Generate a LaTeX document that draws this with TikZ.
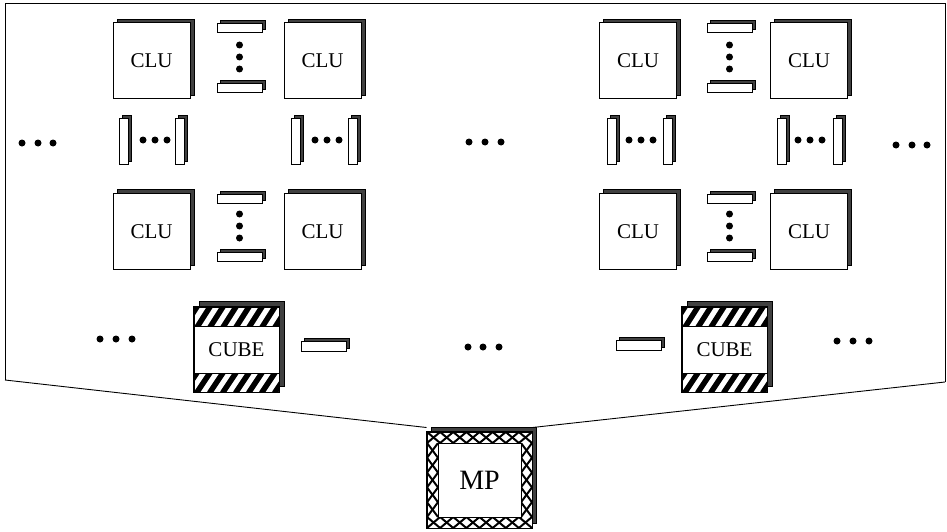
\documentclass[tikz,border=0pt]{standalone}
\usepackage{fontspec}
\setmainfont{Liberation Serif}
\usetikzlibrary{shadows}
\begin{document}
\begin{tikzpicture}[x=1pt,y=-1pt,line width=1pt,
 shd/.style={copy shadow={shadow xshift=#1,shadow yshift=#1,fill=black!75,draw=black,line width=0.8pt}},
 clu/.style={draw,fill=white,inner sep=0pt,minimum width=77pt,minimum height=76pt,font=\fontsize{21}{24}\selectfont,shd=4pt},
 hslab/.style={draw,fill=white,inner sep=0pt,minimum width=45pt,minimum height=9pt,shd=3pt,line width=0.9pt},
 vslab/.style={draw,fill=white,inner sep=0pt,minimum width=9pt,minimum height=46pt,shd=3pt,line width=0.9pt},
 dot/.style={circle,fill=black,inner sep=0pt,minimum size=7pt},
 cube/.style={draw,fill=white,inner sep=0pt,minimum width=85pt,minimum height=85pt,font=\fontsize{21}{24}\selectfont,shd=5.5pt},
 mpbox/.style={draw,fill=white,inner sep=0pt,minimum width=105pt,minimum height=96pt,font=\fontsize{28}{32}\selectfont,
   copy shadow={shadow xshift=4pt,shadow yshift=5pt,fill=black!75,draw=black}},
 hatch/.style={line width=5.5pt},
 xline/.style={line width=2pt},
 frame/.style={line width=0.9pt}]
\useasboundingbox (0,0) rectangle (947,532);

% ---- CLU rows
\foreach \n/\x in {1/151.5,2/322.5,3/638,4/809}{
  \node[clu] (c1\n) at (\x,61) {CLU};
  \node[clu] (c3\n) at (\x,231.5) {CLU};
}
% ---- vertical links (rows 1 and 3)
\foreach \n/\x in {a/239.5,b/729.5}{
  \node[hslab] (t1\n) at (\x,28) {};
  \node[dot] at (\x,45) {};
  \node[dot] at (\x,57) {};
  \node[dot] at (\x,69) {};
  \node[hslab] (b1\n) at (\x,88) {};
  \node[hslab] (t3\n) at (\x,198.5) {};
  \node[dot] at (\x,214) {};
  \node[dot] at (\x,226) {};
  \node[dot] at (\x,238) {};
  \node[hslab] (b3\n) at (\x,257) {};
}
% ---- horizontal links (row 2)
\foreach \n/\xa/\xb/\d in {a/123.5/180/143,b/296/352.5/315,c/611.5/668/629,d/781.5/837.5/798}{
  \node[vslab] (l2\n) at (\xa,141) {};
  \node[vslab] (r2\n) at (\xb,141) {};
  \node[dot] at (\d,140) {};
  \node[dot] at (\d+12,140) {};
  \node[dot] at (\d+24,140) {};
}
% ---- outer dots row 2
\foreach \x/\y in {22/143,38/143,53/143,469/142,485/142,501/142,896/145,912/145,927/145}{
  \node[dot] at (\x,\y) {};
}
% ---- row 4 dots
\foreach \x/\y in {100/339,116/339,132/339,468/347,483/347,499/347,837/341,853/341,869/341}{
  \node[dot] at (\x,\y) {};
}
% ---- row 4 slabs
\node[hslab,minimum height=10pt] (s4a) at (323.5,346) {};
\node[hslab,minimum height=10pt] (s4b) at (638.5,345.5) {};

% ---- CUBE boxes
\foreach \n/\x in {A/236.5,B/724.5}{
  \node[cube] (cube\n) at (\x,349.5) {CUBE};
  \begin{scope}
    \clip (cube\n.north west) rectangle ([yshift=-20pt]cube\n.north east);
    \foreach \k in {-60,-47,...,60}{
      \draw[hatch] (\x+\k-6,328) -- (\x+\k+8,306);
    }
  \end{scope}
  \begin{scope}
    \clip ([yshift=19pt]cube\n.south west) rectangle (cube\n.south east);
    \foreach \k in {-60,-47,...,60}{
      \draw[hatch] (\x+\k-6,393) -- (\x+\k+8,372);
    }
  \end{scope}
  \draw (cube\n.north west) rectangle (cube\n.south east);
  \draw ([yshift=-20pt]cube\n.north west) -- ([yshift=-20pt]cube\n.north east);
  \draw ([yshift=19pt]cube\n.south west) -- ([yshift=19pt]cube\n.south east);
}

% ---- MP box
\node[mpbox] (mp) at (479.5,480) {MP};
\begin{scope}
  \clip (427,432) rectangle (532,443);
  \foreach \i in {0,...,7}{
    \draw[xline] (427+\i*13.125,432) -- (440.125+\i*13.125,443);
    \draw[xline] (427+\i*13.125,443) -- (440.125+\i*13.125,432);
  }
\end{scope}
\begin{scope}
  \clip (427,517) rectangle (532,528);
  \foreach \i in {0,...,7}{
    \draw[xline] (427+\i*13.125,517) -- (440.125+\i*13.125,528);
    \draw[xline] (427+\i*13.125,528) -- (440.125+\i*13.125,517);
  }
\end{scope}
\begin{scope}
  \clip (427,443) rectangle (438,517);
  \foreach \i in {0,...,4}{
    \draw[xline] (427,443+\i*14.8) -- (438,457.8+\i*14.8);
    \draw[xline] (438,443+\i*14.8) -- (427,457.8+\i*14.8);
  }
\end{scope}
\begin{scope}
  \clip (521,443) rectangle (532,517);
  \foreach \i in {0,...,4}{
    \draw[xline] (521,443+\i*14.8) -- (532,457.8+\i*14.8);
    \draw[xline] (532,443+\i*14.8) -- (521,457.8+\i*14.8);
  }
\end{scope}
\draw (mp.north west) rectangle (mp.south east);
\draw (438,443) rectangle (521,517);

% ---- frame
\coordinate (fBL) at (5,380);
\coordinate (fTL) at (5,3);
\coordinate (fTR) at (945,3);
\coordinate (fBR) at (945,382);
\draw[frame] (fBL) -- (fTL) -- (fTR) -- (fBR);
\draw[frame] (fBL) -- ([yshift=4pt]mp.north west);
\draw[frame] (fBR) -- ([yshift=4pt]mp.north east);
\end{tikzpicture}
\end{document}
